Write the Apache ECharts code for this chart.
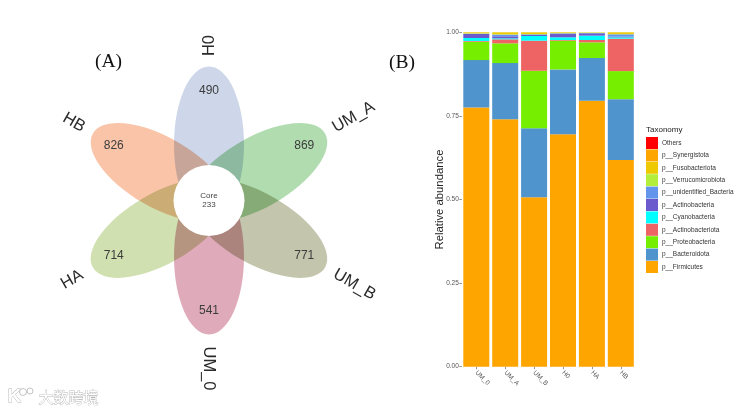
<!DOCTYPE html>
<html><head><meta charset="utf-8">
<style>html,body{margin:0;padding:0;background:#fff}#c{width:744px;height:412px;filter:blur(.35px)}</style>
<script src="https://cdn.jsdelivr.net/npm/echarts@6/dist/echarts.min.js"></script>
</head><body><div id="c"></div>
<script>
// Venn petals, clockwise from the top
const petalNames = ['H0','UM_A','UM_B','UM_0','HA','HB'];
const petalValues = [490,869,771,541,714,826];
const petalColors = ['#cdd7e9','#b0dcb0','#c3c6ac','#dfaaba','#d0e0b0','#f9c4a8'];
const petalAngles = [0,60,120,180,240,300];
const nameRadius = [155,167,168,168,158,156];
const nameRotation = [90,30,-30,-90,30,-30];
const coreLabel = 'Core';
const coreValue = 233;

// Stacked bars
const samples = ['UM_0','UM_A','UM_B','H0','HA','HB'];
const firmicutes = [.775,.740,.507,.695,.795,.618];
const bacteroidota = [.142,.168,.206,.194,.128,.182];
const proteobacteria = [.055,.059,.172,.086,.047,.084];
const actinobacteriota = [.002,.012,.090,.002,.007,.097];
const cyanobacteria = [.009,.003,.014,.008,.013,.004];
const actinobacteria = [.012,.006,.003,.011,.007,.002];
const unidentified = [.001,.005,.002,.001,.001,.007];
const verrucomicrobiota = [.001,.001,.001,.001,.001,.001];
const fusobacteriota = [.003,.006,.005,.002,.001,.005];
const synergistota = [0,0,0,0,0,0];
const others = [0,0,0,0,0,0];
const yTicks = [0,.25,.5,.75,1];

const taxa = [
 ['p__Firmicutes',firmicutes,'#ffa500'],
 ['p__Bacteroidota',bacteroidota,'#4f94cd'],
 ['p__Proteobacteria',proteobacteria,'#76ee00'],
 ['p__Actinobacteriota',actinobacteriota,'#ee6363'],
 ['p__Cyanobacteria',cyanobacteria,'#00ffff'],
 ['p__Actinobacteria',actinobacteria,'#6a5acd'],
 ['p__unidentified_Bacteria',unidentified,'#6495ed'],
 ['p__Verrucomicrobiota',verrucomicrobiota,'#b3ee3a'],
 ['p__Fusobacteriota',fusobacteriota,'#eec900'],
 ['p__Synergistota',synergistota,'#ffa500'],
 ['Others',others,'#ff0000']
];

const PETAL_DIST = 56, PETAL_A = 78, PETAL_B = 35, VALUE_R = 110;
const chart = echarts.init(document.getElementById('c'), null, {renderer:'canvas', width:744, height:412});

const barSeries = taxa.map(t => ({
  name:t[0], type:'bar', stack:'a', xAxisIndex:0, yAxisIndex:0,
  data:t[1], barWidth:'90%', itemStyle:{color:t[2]}, emphasis:{disabled:true}, animation:false
}));

function polar(api, angle, r){
  const a = angle*Math.PI/180;
  return api.coord([r*Math.sin(a), r*Math.cos(a)]);
}
const petalSeries = {
  type:'custom', xAxisIndex:1, yAxisIndex:1, animation:false, silent:true, z:2,
  blendMode:'multiply',
  data:petalNames.map((n,i)=>[i]),
  renderItem(params, api){
    const i = params.dataIndex, ang = petalAngles[i];
    const c = polar(api, ang, PETAL_DIST);
    return {type:'ellipse', x:c[0], y:c[1], rotation:-ang*Math.PI/180,
      shape:{cx:0,cy:0,rx:PETAL_B,ry:PETAL_A},
      style:{fill:petalColors[i]}};
  }
};
const petalTextSeries = {
  type:'custom', xAxisIndex:1, yAxisIndex:1, animation:false, silent:true, z:3,
  data:petalNames.map((n,i)=>[i]),
  renderItem(params, api){
    const i = params.dataIndex, ang = petalAngles[i];
    const v = polar(api, ang, VALUE_R), t = polar(api, ang, nameRadius[i]);
    return {type:'group', children:[
      {type:'text', x:v[0], y:v[1], style:{text:String(petalValues[i]), fill:'#3c3c3c',
        font:'12px "Liberation Sans", Arial', align:'center', verticalAlign:'middle'}},
      {type:'text', x:t[0], y:t[1], rotation:nameRotation[i]*Math.PI/180,
        style:{text:petalNames[i], fill:'#2a2a2a',
        font:'16.5px "Liberation Sans", Arial', align:'center', verticalAlign:'middle'}}
    ]};
  }
};
const coreSeries = {
  type:'scatter', xAxisIndex:1, yAxisIndex:1, animation:false, silent:true, z:4,
  data:[[0,0]], symbol:'circle', symbolSize:71, itemStyle:{color:'#fff',opacity:1},
  label:{show:true, position:'inside', formatter:coreLabel+'\n'+coreValue, color:'#444',
    fontFamily:'Liberation Sans', fontSize:8, lineHeight:9.5}
};

chart.setOption({
  backgroundColor:'#fff',
  animation:false,
  textStyle:{fontFamily:'Liberation Sans'},
  grid:[
    {left:461.85, top:32.3, width:173.4, height:334.4, containLabel:false},
    {left:59, top:50.5, width:300, height:300, show:false}
  ],
  xAxis:[
    {type:'category', gridIndex:0, data:samples, boundaryGap:true,
     axisLine:{show:false}, axisTick:{show:true, alignWithLabel:true, length:2.5, lineStyle:{color:'#666',width:.7}},
     axisLabel:{rotate:-45, fontSize:6.5, color:'#555', margin:5, interval:0}},
    {type:'value', gridIndex:1, min:-150, max:150, show:false}
  ],
  yAxis:[
    {type:'value', gridIndex:0, min:0, max:1, interval:.25,
     name:'Relative abundance', nameLocation:'middle', nameGap:16, nameRotate:90, nameMoveOverlap:false,
     nameTextStyle:{fontSize:11.3, color:'#222', fontFamily:'Liberation Sans'},
     splitLine:{show:false}, axisLine:{show:false},
     axisTick:{show:true, length:2.5, lineStyle:{color:'#666',width:.7}},
     axisLabel:{fontSize:6.5, color:'#555', margin:3, formatter:v=>v.toFixed(2), customValues:yTicks}},
    {type:'value', gridIndex:1, min:-150, max:150, show:false}
  ],
  legend:{
    show:true, orient:'vertical', left:646, top:137, itemWidth:12, itemHeight:12, itemGap:.4,
    icon:'rect', selectedMode:false, padding:0,
    data:taxa.map(t=>t[0]).reverse(),
    textStyle:{fontSize:6.5, color:'#333', padding:[0,0,0,-1]}
  },
  series:[petalSeries, petalTextSeries, coreSeries, ...barSeries],
  graphic:[
    {type:'text', left:646, top:126, style:{text:'Taxonomy', font:'8px "Liberation Sans"', fill:'#222'}},
    {type:'text', left:95, top:52, style:{text:'(A)', font:'19.5px "Liberation Serif"', fill:'#111'}},
    {type:'text', left:389, top:53, style:{text:'(B)', font:'19.5px "Liberation Serif"', fill:'#111'}},
    {type:'text', left:38, top:389, style:{text:'大数跨境', font:'15px "Noto Sans CJK SC"', fill:'#fff', stroke:'#b5b5b5', lineWidth:.8}},
    {type:'text', left:7, top:387, style:{text:'K', font:'bold 19px "Liberation Sans"', fill:'#fff', stroke:'#b5b5b5', lineWidth:.8}},
    {type:'circle', shape:{cx:23,cy:392,r:3.5}, style:{fill:'#fff', stroke:'#b5b5b5', lineWidth:.8}},
    {type:'circle', shape:{cx:30,cy:391,r:3}, style:{fill:'#fff', stroke:'#b5b5b5', lineWidth:.8}}
  ]
});
</script></body></html>
